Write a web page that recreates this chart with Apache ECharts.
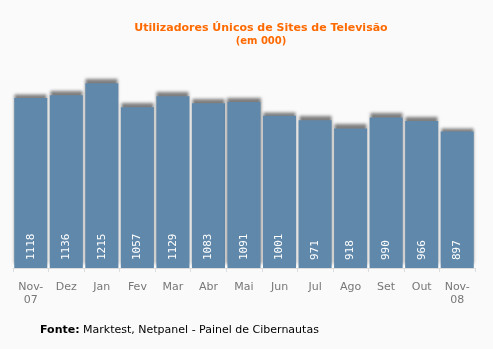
<!DOCTYPE html>
<html>
<head>
<meta charset="utf-8">
<script src="https://cdn.jsdelivr.net/npm/echarts@6/dist/echarts.min.js"></script>
<style>
  html, body { margin: 0; padding: 0; background: #fafafa; }
  #chart { width: 493px; height: 349px; }
</style>
</head>
<body>
<div id="chart"></div>
<script>
// Monthly unique visitors of TV websites (thousands)
const months = ['Nov-\n07', 'Dez', 'Jan', 'Fev', 'Mar', 'Abr', 'Mai', 'Jun', 'Jul', 'Ago', 'Set', 'Out', 'Nov-\n08'];
const visitors = [1118, 1136, 1215, 1057, 1129, 1083, 1091, 1001, 971, 918, 990, 966, 897];

const FONT = '"DejaVu Sans", Verdana, sans-serif';

const chart = echarts.init(document.getElementById('chart'));
chart.setOption({
  backgroundColor: '#fafafa',
  animation: false,
  title: [
    {
      text: 'Utilizadores Únicos de Sites de Televisão',
      left: 256, top: 18, textAlign: 'center',
      textStyle: { color: '#ff6a00', fontSize: 11, fontWeight: 'bold', fontFamily: FONT }
    },
    {
      text: '(em 000)',
      left: 256, top: 31, textAlign: 'center',
      textStyle: { color: '#ff6a00', fontSize: 10, fontWeight: 'bold', fontFamily: FONT }
    }
  ],
  graphic: [{
    type: 'text', left: 40, top: 325,
    style: {
      text: '{b|Fonte:} Marktest, Netpanel - Painel de Cibernautas',
      font: '11px ' + FONT, fill: '#000',
      rich: { b: { fontWeight: 'bold', fontSize: 11, fontFamily: FONT, fill: '#000' } }
    }
  }],
  grid: { left: 13, right: 18, top: 68, bottom: 81 },
  xAxis: {
    type: 'category',
    data: months,
    axisLine: { lineStyle: { color: '#dddddd', width: 1 } },
    axisTick: { show: true, length: 4, lineStyle: { color: '#dddddd' } },
    axisLabel: { color: '#777', fontSize: 11, fontFamily: FONT, margin: 13, lineHeight: 13 }
  },
  yAxis: {
    type: 'value', min: 0, max: 1315,
    show: false,
    splitLine: { show: false }
  },
  series: [{
    type: 'bar',
    data: visitors,
    barCategoryGap: '7%',
    itemStyle: {
      color: '#6088aa',
      shadowColor: 'rgba(0,0,0,0.5)',
      shadowBlur: 3,
      shadowOffsetY: -4
    },
    label: {
      show: true,
      position: 'insideBottom',
      rotate: 90,
      align: 'left',
      verticalAlign: 'middle',
      distance: 8,
      color: '#ffffff',
      fontSize: 11,
      fontFamily: '"DejaVu Sans Mono", monospace'
    }
  }]
});
</script>
</body>
</html>
